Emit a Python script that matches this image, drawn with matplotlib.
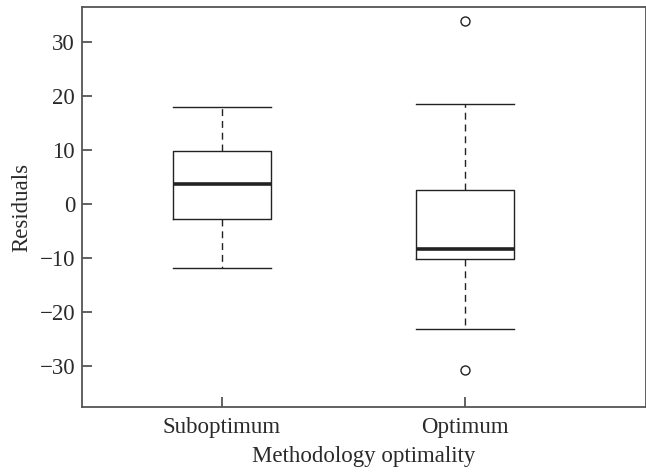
import matplotlib.pyplot as plt

plt.rcParams['font.family'] = ['Liberation Serif', 'DejaVu Serif']

groups = ['Suboptimum', 'Optimum']
whislo = [-11.9, -23.2]
q1 = [-2.7, -10.2]
med = [3.7, -8.4]
q3 = [9.9, 2.6]
whishi = [18.0, 18.5]
fliers = [[], [33.9, -30.7]]


def main():
    fig = plt.figure(figsize=(6.46, 4.73), dpi=100)
    ax = fig.add_axes([82 / 646, 1 - 407 / 473, 1 - 82 / 646, 400 / 473])

    stats = []
    for i in range(len(groups)):
        stats.append({'label': groups[i], 'whislo': whislo[i], 'q1': q1[i],
                      'med': med[i], 'q3': q3[i], 'whishi': whishi[i],
                      'fliers': fliers[i]})

    ax.bxp(stats, positions=[1, 2], widths=0.4, showfliers=True,
           boxprops=dict(color='#222222', linewidth=1.0),
           medianprops=dict(color='#222222', linewidth=2.6),
           whiskerprops=dict(color='#222222', linewidth=1.0, linestyle=(0, (5, 3.5))),
           capprops=dict(color='#222222', linewidth=1.0),
           capwidths=0.4,
           flierprops=dict(marker='o', markerfacecolor='white',
                           markeredgecolor='#222222', markersize=6.5,
                           markeredgewidth=1.0))

    ax.set_xlim(1 - 140 / 243, 2 + 181 / 243)
    ax.set_ylim(-37.6, 36.5)
    ax.set_yticks([-30, -20, -10, 0, 10, 20, 30])
    ax.set_yticklabels(['\u221230', '\u221220', '\u221210', '0', '10', '20', '30'])
    ax.set_xticks([1, 2])
    ax.set_xticklabels(groups)

    for s in ax.spines.values():
        s.set_color('#555555')
        s.set_linewidth(1.3)
    ax.tick_params(direction='in', length=7, width=1.3, color='#555555',
                   labelsize=16.5, labelcolor='#2a2a2a', pad=5)
    ax.tick_params(axis='x', pad=7)

    ax.set_xlabel('Methodology optimality', fontsize=16.5, color='#2a2a2a', labelpad=6)
    ax.set_ylabel('Residuals', fontsize=16.5, color='#2a2a2a', labelpad=5)

    fig.savefig('out.png', dpi=100)


if __name__ == "__main__":
    main()
